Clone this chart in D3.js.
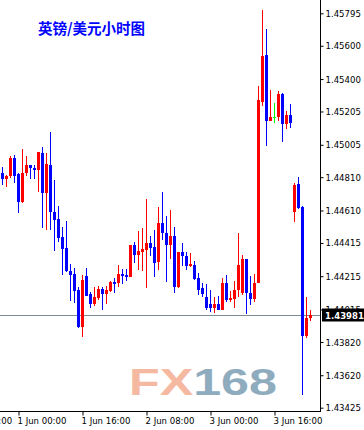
<html>
<head>
<meta charset="utf-8">
<style>
body { margin: 0; background: #fff; }
svg text { font-family: "DejaVu Sans Condensed", "DejaVu Sans", sans-serif; }
</style>
</head>
<body>
<svg id="chart" width="364" height="430"></svg>
<script src="https://cdn.jsdelivr.net/npm/d3@7"></script>
<script>
// GBP/USD hourly candles
const open = [1.44835,1.44799,1.44819,1.44926,1.44829,1.44661,1.44835,1.44883,1.44865,1.44853,
  1.44958,1.44717,1.44885,1.44601,1.44559,1.44451,1.44385,1.44246,1.44228,1.44132,
  1.43912,1.44216,1.44108,1.44048,1.44084,1.44138,1.44108,1.44128,1.44180,1.44174,
  1.44228,1.44222,1.44212,1.44403,1.44340,1.44361,1.44372,1.44417,1.44391,1.44302,
  1.44537,1.44474,1.44403,1.44457,1.44148,1.44363,1.44337,1.44278,1.44284,1.44204,
  1.44144,1.44091,1.44048,1.44022,1.44046,1.44012,1.44174,1.44072,1.44078,1.44132,
  1.44113,1.44320,1.44113,1.44078,1.44172,1.45264,1.45544,1.45150,1.45170,1.45170,
  1.45310,1.45128,1.45184,1.44599,1.44767,1.44633,1.43855,1.43962];
const high = [1.44871,1.44823,1.44939,1.44943,1.44835,1.44982,1.44937,1.44883,1.44883,1.44964,
  1.44994,1.44954,1.45079,1.44793,1.44639,1.44513,1.44549,1.44289,1.44264,1.44152,
  1.44224,1.44264,1.44122,1.44150,1.44156,1.44152,1.44156,1.44188,1.44204,1.44285,
  1.44261,1.44261,1.44403,1.44422,1.44486,1.44507,1.44679,1.44457,1.44493,1.44633,
  1.44723,1.44577,1.44613,1.44513,1.44363,1.44417,1.44363,1.44354,1.44305,1.44232,
  1.44172,1.44166,1.44132,1.44091,1.44096,1.44203,1.44224,1.44128,1.44186,1.44473,
  1.44342,1.44320,1.44216,1.44228,1.45358,1.45815,1.45701,1.45334,1.45254,1.45330,
  1.45314,1.45208,1.45250,1.44777,1.44813,1.44637,1.44091,1.44012];
const low = [1.44762,1.44749,1.44807,1.44775,1.44595,1.44655,1.44817,1.44799,1.44799,1.44721,
  1.44505,1.44493,1.44493,1.44368,1.44422,1.44224,1.44242,1.44068,1.44054,1.43903,
  1.43851,1.44098,1.44022,1.44035,1.44072,1.44012,1.44048,1.44122,1.44114,1.44152,
  1.44168,1.44186,1.44212,1.44293,1.44251,1.44246,1.44142,1.44337,1.44212,1.44251,
  1.44432,1.44182,1.44320,1.44116,1.44142,1.44275,1.44251,1.44271,1.44192,1.44102,
  1.44091,1.44012,1.44000,1.43992,1.44012,1.44012,1.44059,1.44059,1.44022,1.44089,
  1.44102,1.43986,1.44042,1.44059,1.44172,1.45238,1.44999,1.45150,1.45138,1.45150,
  1.45023,1.45100,1.45104,1.44542,1.44619,1.43501,1.43845,1.43944];
const close = [1.44799,1.44817,1.44927,1.44817,1.44661,1.44835,1.44883,1.44865,1.44853,1.44964,
  1.44717,1.44889,1.44601,1.44553,1.44445,1.44379,1.44246,1.44224,1.44126,1.43910,
  1.44192,1.44098,1.44048,1.44090,1.44138,1.44108,1.44132,1.44180,1.44168,1.44228,
  1.44216,1.44210,1.44403,1.44340,1.44367,1.44379,1.44417,1.44387,1.44296,1.44537,
  1.44473,1.44403,1.44457,1.44152,1.44363,1.44334,1.44278,1.44286,1.44196,1.44132,
  1.44106,1.44026,1.44022,1.44046,1.44012,1.44172,1.44072,1.44087,1.44135,1.44285,
  1.44320,1.44113,1.44078,1.44172,1.45274,1.45538,1.45150,1.45174,1.45170,1.45310,
  1.45128,1.45184,1.45138,1.44763,1.44623,1.43855,1.43962,1.43981];

const priceTicks = [1.45795,1.45600,1.45400,1.45205,1.45005,1.44810,1.44610,1.44415,1.44215,1.44015,1.43820,1.43620,1.43425];
const timeTickBars = [-12, 4, 20, 36, 52, 68];
const timeTickLabels = ["29 May 08:00","1 Jun 00:00","1 Jun 16:00","2 Jun 08:00","3 Jun 00:00","3 Jun 16:00"];
const lastPrice = 1.43981;

const svg = d3.select("#chart");
const plotRight = 320, plotBottom = 411;

const x = d3.scaleLinear().domain([0, 77]).range([2, 310]);
const y = d3.scaleLinear().domain([1.43425, 1.45795]).range([407.7, 13.3]);

const candles = d3.range(open.length).map(i => ({ i, o: open[i], h: high[i], l: low[i], c: close[i] }));
const col = d => d.c > d.o ? "#ff0000" : d.c < d.o ? "#0000ff" : "#00ff00";

// watermark
const wm = svg.append("text")
  .attr("x", 129).attr("y", 394.5)
  .attr("textLength", 148).attr("lengthAdjust", "spacingAndGlyphs")
  .style("font-family", "'Liberation Sans', Arial, sans-serif")
  .style("font-weight", "bold").style("font-size", "36.5px");
wm.append("tspan").attr("fill", "#f4b9a0").text("FX");
wm.append("tspan").attr("fill", "#8facbf").text("168");

// title
svg.append("text")
  .attr("x", 38).attr("y", 33.5)
  .attr("fill", "#0000ff")
  .style("font-family", "'Noto Sans CJK SC', sans-serif")
  .style("font-weight", "bold").style("font-size", "14.5px")
  .text("英镑/美元小时图");

// last price line
const yl = Math.round(y(lastPrice)) + 0.5;
svg.append("line")
  .attr("x1", 0).attr("x2", plotRight).attr("y1", yl).attr("y2", yl)
  .attr("stroke", "#7d8a94").attr("stroke-width", 1);

// candles
const g = svg.append("g");
g.selectAll("rect.wick").data(candles).join("rect")
  .attr("class", "wick")
  .attr("x", d => Math.round(x(d.i)))
  .attr("width", 1)
  .attr("y", d => Math.round(y(d.h)))
  .attr("height", d => Math.max(1, Math.round(y(d.l)) - Math.round(y(d.h))))
  .attr("fill", col);
g.selectAll("rect.body").data(candles).join("rect")
  .attr("class", "body")
  .attr("x", d => Math.round(x(d.i)) - 1)
  .attr("width", 3)
  .attr("y", d => Math.round(y(Math.max(d.o, d.c))))
  .attr("height", d => Math.max(1, Math.round(y(Math.min(d.o, d.c))) - Math.round(y(Math.max(d.o, d.c)))))
  .attr("fill", col);

// axes
const yAxis = svg.append("g")
  .attr("transform", `translate(${plotRight + 0.5},0)`)
  .call(d3.axisRight(y).tickValues(priceTicks).tickSize(3).tickFormat(d3.format(".5f")));
yAxis.select(".domain").remove();
yAxis.selectAll("text").attr("x", 5).attr("fill", "#000").style("font-size", "9.5px");
yAxis.selectAll("line").attr("stroke", "#000");

const xAxis = svg.append("g")
  .attr("transform", `translate(0.5,${plotBottom + 0.5})`)
  .call(d3.axisBottom(x).tickValues(timeTickBars).tickSize(4).tickFormat((d, i) => timeTickLabels[i]));
xAxis.select(".domain").remove();
xAxis.selectAll("text").attr("text-anchor", "start").attr("dx", -1.5).attr("y", 6)
  .attr("fill", "#000").style("font-size", "9.5px");
xAxis.selectAll("line").attr("stroke", "#000");

svg.append("line").attr("x1", plotRight + 0.5).attr("x2", plotRight + 0.5).attr("y1", 0).attr("y2", plotBottom + 1)
  .attr("stroke", "#000");
svg.append("line").attr("x1", 0).attr("x2", plotRight + 1).attr("y1", plotBottom + 0.5).attr("y2", plotBottom + 0.5)
  .attr("stroke", "#000");

// last price tag
svg.append("rect").attr("x", 322).attr("y", yl - 7).attr("width", 42).attr("height", 13).attr("fill", "#000");
svg.append("text").attr("x", 325).attr("y", yl).attr("dy", "0.35em")
  .attr("fill", "#fff").style("font-size", "9.5px").style("font-weight", "bold")
  .text(d3.format(".5f")(lastPrice));
</script>
</body>
</html>
